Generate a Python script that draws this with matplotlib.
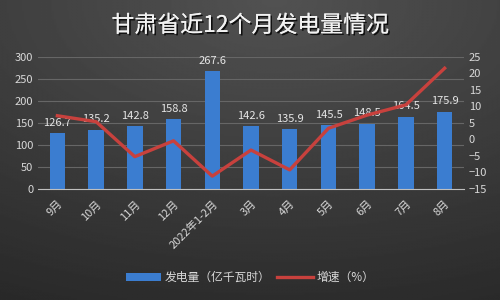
import numpy as np
import matplotlib.pyplot as plt
import matplotlib.patheffects as pe

plt.rcParams['font.family'] = ['Noto Sans CJK SC', 'DejaVu Sans']

months = ['9月', '10月', '11月', '12月', '2022年1-2月', '3月', '4月', '5月', '6月', '7月', '8月']
output = [126.7, 135.2, 142.8, 158.8, 267.6, 142.6, 135.9, 145.5, 148.5, 164.5, 175.9]
growth = [7.2, 5.4, -5.2, -0.4, -11.1, -3.2, -9.2, 3.4, 7.4, 10.5, 21.6]

txt = '#d9d9d9'
fig = plt.figure(figsize=(5, 3), dpi=100)

# dark gradient background, lighter at top centre
bg = fig.add_axes([0, 0, 1, 1], zorder=-10)
yy, xx = np.mgrid[0:1:200j, 0:1:300j]
d = np.sqrt(((xx - 0.55) * 1.0) ** 2 + (yy * 1.1) ** 2)
grad = 0.32 - 0.13 * np.clip(d, 0, 1.2)
bg.imshow(grad, cmap='gray', vmin=0, vmax=1, aspect='auto', extent=[0, 1, 0, 1], origin='upper')
bg.axis('off')

ax = fig.add_axes([0.076, 0.37, 0.852, 0.44])
ax.set_facecolor('none')
x = np.arange(len(months))
bars = ax.bar(x, output, width=0.4, color='#3b7dd0', zorder=2, label='发电量（亿千瓦时）')
for xi, v in zip(x, output):
    ax.text(xi, v + 12, f'{v:.1f}', ha='center', va='bottom', color='#e6e6e6', fontsize=8, zorder=5)
ax.set_ylim(0, 300)
ax.set_yticks(range(0, 301, 50))
ax.set_xlim(-0.5, len(months) - 0.5)
ax.set_xticks(x)
ax.set_xticklabels(months, rotation=45, ha='right', rotation_mode='anchor')
ax.tick_params(colors=txt, labelsize=8, length=0)
ax.tick_params(axis='x', pad=7)
ax.grid(axis='y', color='#666666', linewidth=0.8, zorder=0)
for s in ['top', 'right', 'left']:
    ax.spines[s].set_visible(False)
ax.spines['bottom'].set_color('#bfbfbf')
ax.spines['bottom'].set_zorder(3)

ax2 = ax.twinx()
line, = ax2.plot(x, growth, color='#c8413d', linewidth=2.4, zorder=4, label='增速（%）')
ax2.set_ylim(-15, 25)
ax2.set_yticks(range(-15, 26, 5))
ax2.tick_params(colors=txt, labelsize=8, length=0)
for s in ax2.spines.values():
    s.set_visible(False)

fig.text(0.5, 0.915, '甘肃省近12个月发电量情况', ha='center', va='center',
         fontsize=16.5, color='#f2f2f2',
         path_effects=[pe.withSimplePatchShadow(offset=(1.2, -1.2), shadow_rgbFace='black', alpha=0.8),
                       pe.Normal()])

leg = fig.legend(handles=[bars, line], loc='center', bbox_to_anchor=(0.5, 0.075), ncol=2,
                 frameon=False, fontsize=8.5, handlelength=3.0, handleheight=0.6,
                 columnspacing=0.6, handletextpad=0.3)
for t in leg.get_texts():
    t.set_color(txt)

fig.savefig('out.png')
